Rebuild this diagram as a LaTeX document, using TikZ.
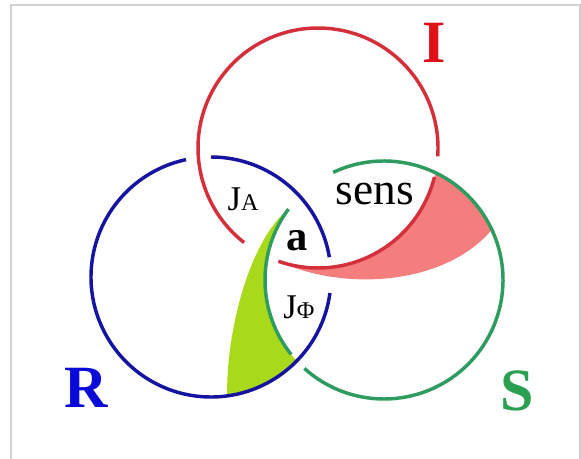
\documentclass[tikz,border=0pt]{standalone}
\usepackage{fontspec}
\setmainfont{Liberation Serif}
\definecolor{redI}{HTML}{D4303C}
\definecolor{blueR}{HTML}{1414A0}
\definecolor{greenS}{HTML}{2E9C5E}
\definecolor{pinkfill}{HTML}{F47E7E}
\definecolor{limefill}{HTML}{A9D91B}
\definecolor{labI}{HTML}{E01018}
\definecolor{labR}{HTML}{0A0AD8}
\definecolor{labS}{HTML}{2AA050}
\begin{document}
\begin{tikzpicture}[x=0.75pt,y=-0.75pt,line width=2.6pt,
  lbl/.style={anchor=base,inner sep=0pt}]
\useasboundingbox (0,0) rectangle (581,459);
\draw[line width=1.5pt,black!18] (11,470) |- (580,5) -- (580,470);
\coordinate (cI) at (318,148);
\coordinate (cR) at (211,277);
\coordinate (cS) at (384,280);
% shaded parts
\fill[pinkfill] (cI) ++(109.3:120) arc[start angle=109.3,end angle=12,radius=120]
  arc[start angle=-64.3,end angle=-25,radius=119]
  .. controls (445,285) and (345,292) .. cycle;
\fill[limefill] (cS) ++(216.6:119) arc[start angle=216.6,end angle=137,radius=119]
  arc[start angle=44.3,end angle=82.3,radius=120]
  .. controls (226,330) and (250,240) .. cycle;
% rings, cut where they pass under
\foreach \c/\col/\r/\a/\b in {cI/redI/120/14/109.3, cI/redI/120/128/364,
  cR/blueR/120/-90/-9.5, cR/blueR/120/7.7/258,
  cS/greenS/119/141.3/216.6, cS/greenS/119/-115.3/132}
  \draw[\col] (\c) ++(\a:\r) arc[start angle=\a,end angle=\b,radius=\r];
% labels
\node[lbl,text=labI] (I) at (434,63) {\fontsize{45}{45}\selectfont\bfseries I};
\node[lbl,text=labR] (R) at (86,407) {\fontsize{45}{45}\selectfont\bfseries R};
\node[lbl,text=labS] (S) at (517,410) {\fontsize{45}{45}\selectfont\bfseries S};
\node[lbl] (sens) at (375,205) {\fontsize{34}{34}\selectfont sens};
\node[lbl] (JA) at (243,211) {\fontsize{26}{26}\selectfont J{\fontsize{18}{18}\selectfont A}};
\node[lbl] (a) at (297,251) {\fontsize{32}{32}\selectfont\bfseries a};
\node[lbl] (JPhi) at (299,318) {\fontsize{26}{26}\selectfont J{\fontsize{18}{18}\selectfont Φ}};
\end{tikzpicture}
\end{document}
